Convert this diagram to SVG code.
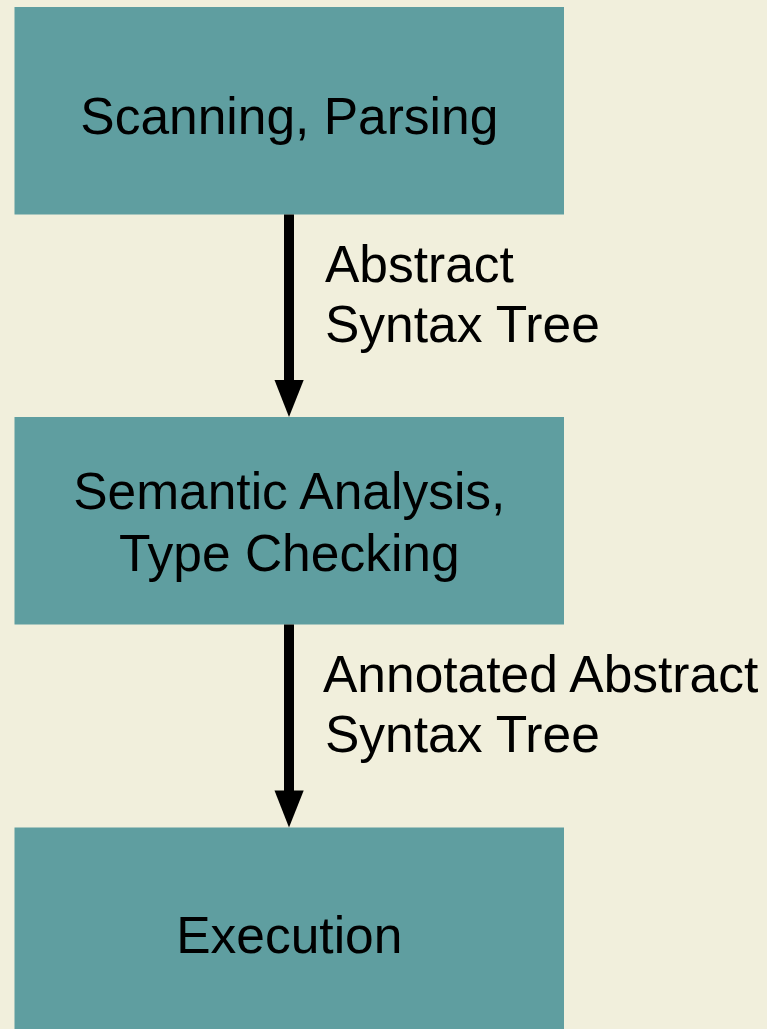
<svg xmlns="http://www.w3.org/2000/svg" width="767" height="1029" viewBox="0 0 767 1029">
<style>
.box{fill:#5f9ea0;}
.t{font-family:"Liberation Sans",Arial,sans-serif;font-size:51.5px;fill:#000;}
.c{text-anchor:middle;}
.shaft{stroke:#000;stroke-width:10;fill:none;}
.head{fill:#000;}
</style>
<rect width="767" height="1029" fill="#f1efdc"/>
<g id="node-scan">
<rect class="box" x="14.5" y="7" width="549.5" height="207.5"/>
<text class="t c" x="289.3" y="134">Scanning, Parsing</text>
</g>
<g id="node-semantic">
<rect class="box" x="14.5" y="417" width="549.5" height="207.5"/>
<text class="t c" x="289.3" y="509">Semantic Analysis,</text>
<text class="t c" x="289.3" y="571">Type Checking</text>
</g>
<g id="node-exec">
<rect class="box" x="14.5" y="827.5" width="549.5" height="207.5"/>
<text class="t c" x="289.3" y="953">Execution</text>
</g>
<g id="connectors">
<line class="shaft" x1="289" y1="214.5" x2="289" y2="382"/>
<polygon class="head" points="274.5,380 303.7,380 289,417"/>
<text class="t" x="325" y="282">Abstract</text>
<text class="t" x="325" y="342">Syntax Tree</text>
<line class="shaft" x1="289" y1="624.5" x2="289" y2="792"/>
<polygon class="head" points="274.5,790.5 303.7,790.5 289,827.5"/>
<text class="t" x="323" y="692">Annotated Abstract</text>
<text class="t" x="325" y="752">Syntax Tree</text>
</g>
</svg>
